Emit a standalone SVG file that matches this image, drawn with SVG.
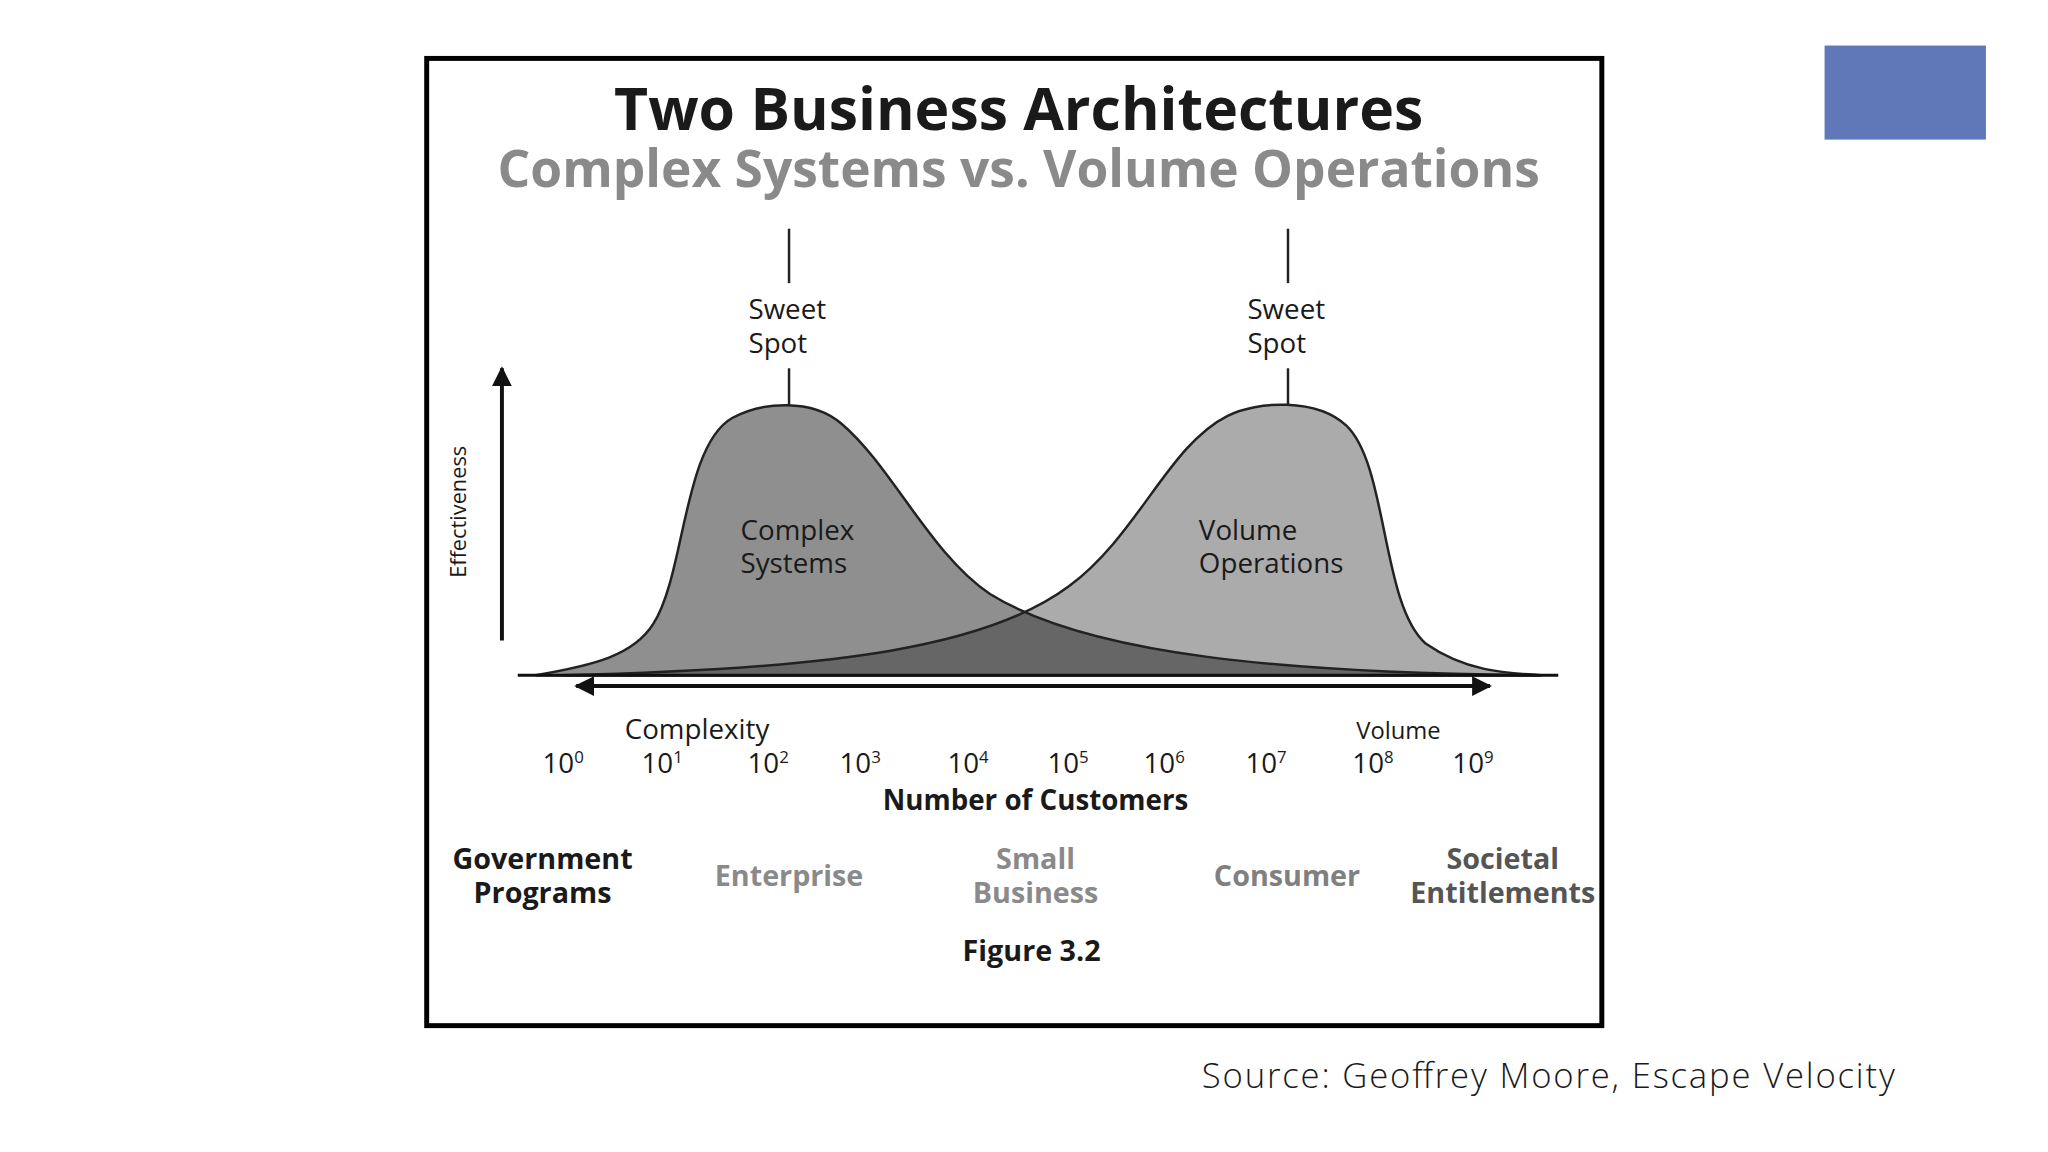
<svg xmlns="http://www.w3.org/2000/svg" width="2048" height="1152" viewBox="0 0 2048 1152">
<style>
text{font-family:"Open Sans","Liberation Sans",sans-serif;fill:#1a1a1a}
.lbl{font-size:28px}
.ax{font-size:28px;text-anchor:start}
.cat{font-size:29px;font-weight:bold;text-anchor:middle}
.gray{fill:#8a8a8a}
.ln{stroke:#222;stroke-width:2.5;fill:none}
</style>
<defs>
<marker id="ah" viewBox="0 0 10 10" refX="9" refY="5" markerWidth="5" markerHeight="5" orient="auto-start-reverse"><path d="M0,0 L10,5 L0,10 z" fill="#111"/></marker>
<path id="lc" d="M541,682 C600,672 640,662 660,630 C692,580 690,450 740,422 C770,406 820,402 850,428 C900,470 940,560 1000,600 C1100,662 1300,680 1557,682 Z"/>
<path id="rc" d="M567,682 C850,676 1000,652 1080,592 C1150,540 1180,450 1240,420 C1270,405 1330,402 1360,430 C1402,470 1395,610 1440,650 C1480,678 1520,680 1557,682 Z"/>
<clipPath id="lclip"><use href="#lc"/></clipPath>
</defs>
<rect width="2048" height="1152" fill="#fff"/>
<g transform="scale(0.99)">
<rect x="1843" y="46" width="163" height="95" fill="#6078b8"/>
<rect x="431" y="59" width="1187" height="977" fill="#fff" stroke="#000" stroke-width="5"/>
<g id="title">
<text x="1029" y="131" text-anchor="middle" font-size="59.5" font-weight="bold">Two Business Architectures</text>
<text x="1029" y="189" text-anchor="middle" font-size="52" font-weight="bold" class="gray">Complex Systems vs. Volume Operations</text>
</g>
<g id="curves">
<use href="#lc" fill="#8f8f8f"/>
<use href="#rc" fill="#ababab"/>
<use href="#rc" fill="#666" clip-path="url(#lclip)"/>
<use href="#lc" class="ln"/>
<use href="#rc" class="ln"/>
</g>
<g id="connectors">
<line x1="797" y1="231" x2="797" y2="286" class="ln"/>
<line x1="797" y1="372" x2="797" y2="409" class="ln"/>
<line x1="1301" y1="231" x2="1301" y2="286" class="ln"/>
<line x1="1301" y1="372" x2="1301" y2="409" class="ln"/>
<line x1="523" y1="682" x2="1574" y2="682" stroke="#111" stroke-width="3"/>
<line x1="582" y1="693" x2="1505" y2="693" stroke="#111" stroke-width="4" marker-start="url(#ah)" marker-end="url(#ah)"/>
<line x1="507" y1="647" x2="507" y2="372" stroke="#111" stroke-width="4" marker-end="url(#ah)"/>
</g>
<g id="sweet1"><text class="lbl" x="756" y="322">Sweet</text><text class="lbl" x="756" y="357">Spot</text></g>
<g id="sweet2"><text class="lbl" x="1260" y="322">Sweet</text><text class="lbl" x="1260" y="357">Spot</text></g>
<g id="complex"><text class="lbl" x="748" y="545">Complex</text><text class="lbl" x="748" y="579">Systems</text></g>
<g id="volume"><text class="lbl" x="1211" y="545">Volume</text><text class="lbl" x="1211" y="579">Operations</text></g>
<text x="471" y="517" font-size="22" text-anchor="middle" transform="rotate(-90 471 517)">Effectiveness</text>
<g id="axis">
<text x="631" y="746" font-size="28">Complexity</text>
<text x="1370" y="746" font-size="24">Volume</text>
<text class="ax" x="548" y="781">10<tspan font-size="17" dy="-10">0</tspan></text>
<text class="ax" x="648" y="781">10<tspan font-size="17" dy="-10">1</tspan></text>
<text class="ax" x="755" y="781">10<tspan font-size="17" dy="-10">2</tspan></text>
<text class="ax" x="848" y="781">10<tspan font-size="17" dy="-10">3</tspan></text>
<text class="ax" x="957" y="781">10<tspan font-size="17" dy="-10">4</tspan></text>
<text class="ax" x="1058" y="781">10<tspan font-size="17" dy="-10">5</tspan></text>
<text class="ax" x="1155" y="781">10<tspan font-size="17" dy="-10">6</tspan></text>
<text class="ax" x="1258" y="781">10<tspan font-size="17" dy="-10">7</tspan></text>
<text class="ax" x="1366" y="781">10<tspan font-size="17" dy="-10">8</tspan></text>
<text class="ax" x="1467" y="781">10<tspan font-size="17" dy="-10">9</tspan></text>
<text x="1046" y="818" font-size="28" font-weight="bold" text-anchor="middle">Number of Customers</text>
</g>
<g id="categories">
<text class="cat" x="548" y="878" fill="#333">Government</text><text class="cat" x="548" y="912" fill="#333">Programs</text>
<text class="cat gray" x="797" y="895">Enterprise</text>
<text class="cat gray" x="1046" y="878">Small</text><text class="cat gray" x="1046" y="912">Business</text>
<text class="cat" x="1300" y="895" style="fill:#808080">Consumer</text>
<text class="cat" x="1518" y="878" style="fill:#555">Societal</text><text class="cat" x="1518" y="912" style="fill:#555">Entitlements</text>
<text x="1042" y="971" font-size="29" font-weight="bold" text-anchor="middle">Figure 3.2</text>
</g>
<text x="1214" y="1099" font-size="35" font-family="Lato, 'Liberation Sans', sans-serif" font-weight="300" textLength="700">Source:  Geoffrey Moore, Escape Velocity</text>
</g>
</svg>
